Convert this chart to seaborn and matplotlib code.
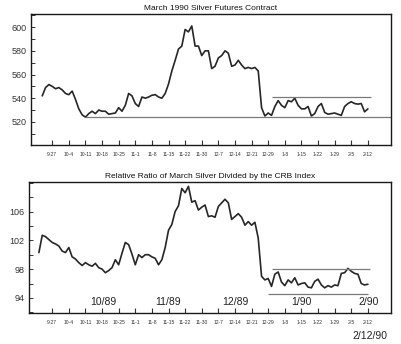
import numpy as np
import pandas as pd
import matplotlib
matplotlib.use("Agg")
import matplotlib.pyplot as plt
from matplotlib.ticker import MultipleLocator
import seaborn as sns

# ---------------- data ----------------
week_labels = ["9-27", "10-4", "10-11", "10-18", "10-25", "11-1", "11-8", "11-15",
               "11-22", "11-30", "12-7", "12-14", "12-21", "12-29", "1-8", "1-15",
               "1-22", "1-29", "2-5", "2-12"]
week_pos = [0, 5, 10, 15, 20, 25, 30, 35, 40, 45, 50, 55, 60, 65, 70, 75, 80, 85, 90, 95]

silver_day = list(range(-3, 96))
silver_price = [542, 549, 551.5, 550, 548, 549, 547, 544, 543, 546,
                539, 531, 526, 524, 527, 529, 527, 530, 529, 529,
                526.5, 527, 527.5, 532, 529, 534, 544, 542, 535.5, 533,
                541, 540, 541, 542.5, 543, 541, 540, 544, 552, 563,
                572, 581.5, 584, 598, 596, 601, 584, 584, 576, 580,
                580, 565, 567, 574, 576, 580, 578, 567, 568, 572,
                568, 565, 566, 565, 566, 563, 532, 525, 527.5, 525.5,
                533, 538, 534, 532, 538, 537, 540, 534, 531, 531,
                533, 525, 527, 533, 535.5, 528, 526.5, 527, 527.5, 526.5,
                525.5, 533, 535.5, 537, 535.5, 535, 535.5, 528.5, 531]

ratio_day = list(range(-4, 96))
ratio_value = [100.3, 102.7, 102.5, 102.1, 101.7, 101.5, 101.2, 100.5, 100.3, 101.0,
               99.7, 99.4, 98.9, 98.5, 98.9, 98.6, 98.4, 98.8, 98.2, 98.0,
               97.5, 97.8, 98.2, 99.3, 98.6, 100.2, 101.7, 101.4, 100.1, 98.6,
               100.0, 99.6, 100.0, 100.0, 99.7, 99.5, 98.6, 99.3, 101.0, 103.4,
               104.2, 106.0, 106.8, 109.2, 108.6, 109.5, 107.3, 107.5, 106.2, 106.6,
               106.9, 105.3, 105.4, 105.2, 106.7, 107.2, 107.7, 107.2, 104.9, 105.3,
               105.7, 105.2, 104.1, 104.6, 104.1, 104.5, 102.3, 97.0, 96.5, 96.7,
               95.6, 97.3, 97.6, 96.2, 95.7, 96.5, 96.1, 96.8, 95.8, 96.0,
               96.1, 95.5, 95.4, 96.3, 96.6, 95.8, 95.4, 95.7, 95.5, 95.8,
               95.7, 97.4, 97.5, 98.1, 97.7, 97.4, 97.3, 96.0, 95.8, 95.9]

# reference lines: (level, start day, end day)
silver_lines = [(524, 10, 102.0), (541, 66, 96)]
ratio_lines = [(98.0, 66, 95.5), (94.6, 65, 95)]

month_labels = ["10/89", "11/89", "12/89", "1/90", "2/90"]
month_pos = [15.3, 34.8, 55, 74.9, 95.1]

top_title = "March 1990 Silver Futures Contract"
bottom_title = "Relative Ratio of March Silver Divided by the CRB Index"
date_note = "2/12/90"

# ---------------- style ----------------
sns.set_style("white")
plt.rcParams['font.family'] = ['Liberation Sans', 'DejaVu Sans']

fig = plt.figure(figsize=(4.02, 3.44), dpi=100)
ax1 = fig.add_axes([0.077, 0.5785, 0.896, 0.3805])
ax2 = fig.add_axes([0.072, 0.090, 0.901, 0.381])

line_col = "#262626"
ref_col = "#7a7a7a"

df1 = pd.DataFrame({"day": silver_day, "price": silver_price})
df2 = pd.DataFrame({"day": ratio_day, "ratio": ratio_value})

sns.lineplot(data=df1, x="day", y="price", ax=ax1, color=line_col, linewidth=1.2)
sns.lineplot(data=df2, x="day", y="ratio", ax=ax2, color=line_col, linewidth=1.2)

for lvl, a, b in silver_lines:
    ax1.hlines(lvl, a, b, color=ref_col, linewidth=0.9)
for lvl, a, b in ratio_lines:
    ax2.hlines(lvl, a, b, color=ref_col, linewidth=0.9)

ax1.set_xlim(-6.4, 102.0)
ax1.set_ylim(500.5, 611)
ax2.set_xlim(-7.0, 102.0)
ax2.set_ylim(91.9, 110.1)

ax1.yaxis.set_major_locator(MultipleLocator(20))
ax1.yaxis.set_minor_locator(MultipleLocator(10))
ax1.set_yticks([520, 540, 560, 580, 600])
ax2.set_yticks([94, 98, 102, 106])
ax2.yaxis.set_minor_locator(MultipleLocator(2))

for ax in (ax1, ax2):
    ax.set_xticks(week_pos)
    ax.set_xticklabels(week_labels)
    ax.set_xlabel("")
    ax.set_ylabel("")
    ax.tick_params(axis="x", direction="in", length=3.5, width=0.8, labelsize=3.6,
                   pad=5, colors="#333333", bottom=True)
    ax.tick_params(axis="y", which="both", direction="in", length=3, width=0.7,
                   labelsize=6.5, pad=3, colors="#333333", left=True)
    for s in ax.spines.values():
        s.set_color("#1a1a1a")
        s.set_linewidth(1.0)
    ax.set_facecolor("white")

ax1.set_title(top_title, fontsize=6, pad=3, color="#111111")
ax2.set_title(bottom_title, fontsize=6, pad=3, color="#111111")

for lbl, pos in zip(month_labels, month_pos):
    ax2.text(pos, 93.4, lbl, ha="center", va="center", fontsize=7.5, color="#222222")

fig.text(0.963, 0.023, date_note, ha="right", va="center", fontsize=7.5, color="#222222")

fig.savefig("out.png", dpi=100, facecolor="white")
